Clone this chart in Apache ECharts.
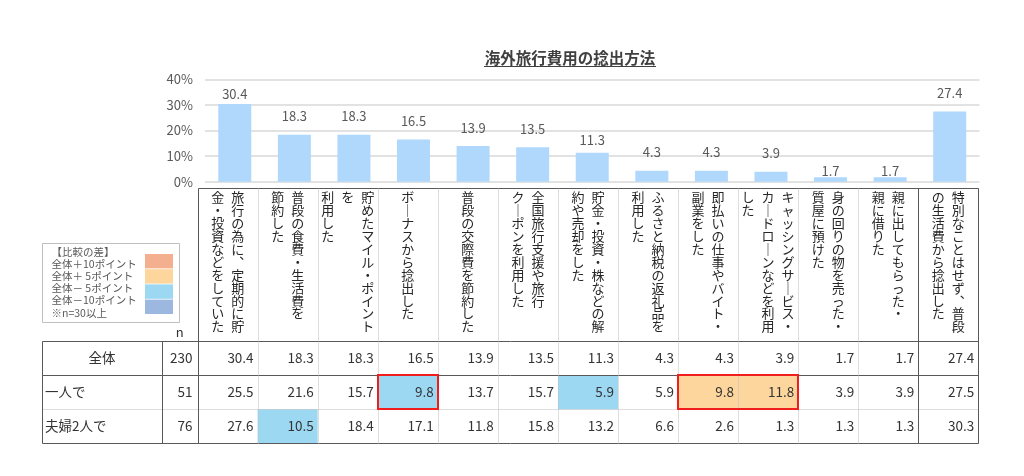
<!DOCTYPE html>
<html><head><meta charset="utf-8">
<script src="https://cdn.jsdelivr.net/npm/echarts@6/dist/echarts.min.js"></script>
<style>html,body{margin:0;padding:0;background:#fff}#c{width:1024px;height:476px}</style>
</head><body><div id="c"></div>
<script>
// ---------- data ----------
const chartTitle = '海外旅行費用の捻出方法';
const categories = [
  '旅行の為に、定期的に貯金・投資などをしていた', '普段の食費・生活費を節約した', '貯めたマイル・ポイントを利用した',
  'ボーナスから捻出した', '普段の交際費を節約した', '全国旅行支援や旅行クーポンを利用した',
  '貯金・投資・株などの解約や売却をした', 'ふるさと納税の返礼品を利用した', '即払いの仕事やバイト・副業をした',
  'キャッシングサービス・カードローンなどを利用した', '身の回りの物を売った・質屋に預けた',
  '親に出してもらった・親に借りた', '特別なことはせず、普段の生活費から捻出した'
];
const headerLines = [
  ['旅行の為に、定期的に貯', '金・投資などをしていた'],
  ['普段の食費・生活費を', '節約した'],
  ['貯めたマイル・ポイント', 'を', '利用した'],
  ['ボーナスから捻出した'],
  ['普段の交際費を節約した'],
  ['全国旅行支援や旅行', 'クーポンを利用した'],
  ['貯金・投資・株などの解', '約や売却をした'],
  ['ふるさと納税の返礼品を', '利用した'],
  ['即払いの仕事やバイト・', '副業をした'],
  ['キャッシングサービス・', 'カードローンなどを利用', 'した'],
  ['身の回りの物を売った・', '質屋に預けた'],
  ['親に出してもらった・', '親に借りた'],
  ['特別なことはせず、普段', 'の生活費から捻出した']
];
const yTickLabels = ['0%', '10%', '20%', '30%', '40%'];
const rowNames = ['全体', '一人で', '夫婦2人で'];
const rowN = [230, 51, 76];
const valAll = [30.4, 18.3, 18.3, 16.5, 13.9, 13.5, 11.3, 4.3, 4.3, 3.9, 1.7, 1.7, 27.4];
const valAlone = [25.5, 21.6, 15.7, 9.8, 13.7, 15.7, 5.9, 5.9, 9.8, 11.8, 3.9, 3.9, 27.5];
const valCouple = [27.6, 10.5, 18.4, 17.1, 11.8, 15.8, 13.2, 6.6, 2.6, 1.3, 1.3, 1.3, 30.3];
const redBoxes = [[1, 3, 3], [1, 8, 9]]; // [row, fromCol, toCol]
const legendTitle = '【比較の差】';
const legendItems = ['全体＋10ポイント', '全体＋ 5ポイント', '全体－ 5ポイント', '全体－10ポイント'];
const legendNote = '※n=30以上';

// ---------- styles / layout ----------
const FONT = "'Noto Sans CJK JP','Noto Sans',sans-serif";
const diffColors = ['#F4B08E', '#FCD69C', '#9DD8F3', '#9DB8E0'];
const XL = -2.59, XN = -0.59;   // left edges of name / n columns, in data-column units
const labelDist = {0: 3, 6: 6, 10: 0, 11: 0};

function diffCode(v, base) {
  const d = v - base;
  if (d >= 10) return 1; if (d >= 5) return 2; if (d <= -10) return 4; if (d <= -5) return 3; return 0;
}
function verticalText(lines) {
  const n = Math.max(...lines.map(l => l.length));
  const rows = [];
  for (let i = 0; i < n; i++) {
    let s = '';
    for (let j = lines.length - 1; j >= 0; j--) {
      let ch = lines[j][i] || '　';
      if (ch === 'ー') ch = '｜';
      if (ch === '、') ch = '︑';
      s += '{c|' + ch + '}';
    }
    rows.push(s);
  }
  return rows.join('\n');
}

const rows = [valAll, valAlone, valCouple];
const cellData = [];
rows.forEach((arr, r) => arr.forEach((v, c) => {
  const code = (r > 0 && rowN[r] >= 30) ? diffCode(v, valAll[c]) : 0;
  cellData.push([c, r, v, code]);
}));

const frameData = [];
frameData.push([0, -4.5, 13, -4.5, 0]);
[0, 1, 3].forEach(y => frameData.push([XL, y, 13, y, 0]));
frameData.push([XL, 2, 13, 2, 1]);
frameData.push([XL, 0, XL, 3, 0]);
frameData.push([XN, 0, XN, 3, 0]);
for (let c = 0; c <= 13; c++) frameData.push([c, -4.5, c, 3, (c === 0 || c === 12 || c === 13) ? 0 : 1]);

const px = v => Math.round(v) + 0.5;

const chart = echarts.init(document.getElementById('c'), null, {renderer: 'canvas'});
chart.setOption({
  animation: false,
  backgroundColor: '#fff',
  title: {
    text: chartTitle, left: 565, top: 45, textAlign: 'center',
    textStyle: {fontSize: 15.5, fontWeight: 'bold', color: '#404040', fontFamily: FONT}
  },
  grid: [
    {left: 205, top: 79.3, width: 774.5, height: 102.4, outerBoundsMode: 'none', containLabel: false},
    {left: 197.6, top: 188, width: 780.7, height: 153.2, outerBoundsMode: 'none', containLabel: false},
    {left: 42, top: 188, width: 936.3, height: 255.3, outerBoundsMode: 'none', containLabel: false}
  ],
  xAxis: [
    {gridIndex: 0, type: 'category', data: categories, axisLine: {show: false}, axisTick: {show: false}, axisLabel: {show: false}},
    {gridIndex: 1, type: 'category', data: categories, position: 'top',
      axisLine: {show: false}, axisTick: {show: false}, splitLine: {show: false},
      axisLabel: {
        interval: 0, inside: true, margin: 3, verticalAlign: 'top', align: 'center',
        formatter: (v, i) => verticalText(headerLines[i]),
        rich: {c: {width: 20, align: 'center', fontSize: 13, lineHeight: 12.9, color: '#262626', fontFamily: FONT}}
      }},
    {gridIndex: 2, type: 'value', min: XL, max: 13, show: false}
  ],
  yAxis: [
    {gridIndex: 0, type: 'value', min: 0, max: 40, interval: 10,
      axisLine: {show: false}, axisTick: {show: false},
      axisLabel: {formatter: v => yTickLabels[Math.round(v / 10)], color: '#595959', fontSize: 13, margin: 12, fontFamily: FONT},
      splitLine: {lineStyle: {color: '#D9D9D9', width: 1.5}}},
    {gridIndex: 1, type: 'value', show: false},
    {gridIndex: 2, type: 'value', min: -4.5, max: 3, inverse: true, show: false}
  ],
  graphic: [
    {type: 'line', shape: {x1: 484, y1: 66.5, x2: 656, y2: 66.5}, style: {stroke: '#404040', lineWidth: 1}},
    {type: 'rect', shape: {x: 42.5, y: 243.5, width: 137, height: 79}, style: {fill: '#fff', stroke: '#BFBFBF', lineWidth: 1}},
    {type: 'text', x: 51.5, y: 245.6, style: {
      text: [legendTitle, ...legendItems, legendNote].join('\n'),
      fontSize: 10.5, lineHeight: 12.2, fill: '#595959', fontFamily: FONT}},
    ...diffColors.map((col, i) => ({type: 'rect', shape: {x: 145, y: 254 + i * 15.2, width: 28, height: 14.4}, style: {fill: col}}))
  ],
  series: [
    {type: 'bar', xAxisIndex: 0, yAxisIndex: 0, barWidth: 33,
      itemStyle: {color: '#AFD8FC'},
      label: {show: true, position: 'top', color: '#595959', fontSize: 13, fontFamily: FONT, formatter: p => p.value.toFixed(1)},
      data: valAll.map((v, i) => ({value: v, label: {distance: labelDist[i] !== undefined ? labelDist[i] : 12}}))},
    {type: 'custom', xAxisIndex: 2, yAxisIndex: 2, z: 2, data: cellData,
      renderItem: (params, api) => {
        const c = api.value(0), r = api.value(1), v = api.value(2), code = api.value(3);
        const a = api.coord([c, r]), b = api.coord([c + 1, r + 1]);
        const ch = [];
        if (code) ch.push({type: 'rect', shape: {x: a[0], y: a[1], width: b[0] - a[0], height: b[1] - a[1]}, style: {fill: diffColors[code - 1]}});
        ch.push({type: 'text', style: {text: v.toFixed(1), x: b[0] - 4, y: (a[1] + b[1]) / 2, align: 'right', verticalAlign: 'middle', fontSize: 13.5, fill: '#333', fontFamily: FONT}});
        return {type: 'group', children: ch};
      }},
    {type: 'custom', xAxisIndex: 2, yAxisIndex: 2, z: 3, data: rowNames.map((n, i) => [i]),
      renderItem: (params, api) => {
        const r = params.dataIndex;
        const mid = api.coord([(XL + XN) / 2, r + 0.5]);
        const left = api.coord([XL, r + 0.5]);
        const nr = api.coord([0, r + 0.5]);
        const ch = [];
        const st = {fontSize: 13.5, fill: '#333', fontFamily: FONT, verticalAlign: 'middle'};
        if (r === 0) ch.push({type: 'text', style: Object.assign({text: rowNames[r], x: mid[0], y: mid[1], align: 'center'}, st)});
        else ch.push({type: 'text', style: Object.assign({text: rowNames[r], x: left[0] + 3, y: left[1], align: 'left'}, st)});
        ch.push({type: 'text', style: Object.assign({text: String(rowN[r]), x: nr[0] - 5, y: nr[1], align: 'right'}, st)});
        if (r === 0) {
          const h = api.coord([(XN + 0) / 2, 0]);
          ch.push({type: 'text', style: Object.assign({}, st, {text: 'n', x: h[0], y: h[1] - 9, align: 'center', fontSize: 13})});
        }
        return {type: 'group', children: ch};
      }},
    {type: 'custom', xAxisIndex: 2, yAxisIndex: 2, z: 4, data: frameData,
      renderItem: (params, api) => {
        const a = api.coord([api.value(0), api.value(1)]);
        const b = api.coord([api.value(2), api.value(3)]);
        const light = api.value(4) === 1;
        return {type: 'line', shape: {x1: px(a[0]), y1: px(a[1]), x2: px(b[0]), y2: px(b[1])},
          style: {stroke: light ? '#BDBDBD' : '#595959', lineWidth: 1, lineDash: light ? [1, 1] : null}};
      }},
    {type: 'custom', xAxisIndex: 2, yAxisIndex: 2, z: 5, data: redBoxes,
      renderItem: (params, api) => {
        const r = api.value(0), f = api.value(1), t = api.value(2);
        const a = api.coord([f, r]), b = api.coord([t + 1, r + 1]);
        return {type: 'rect', shape: {x: Math.round(a[0]), y: Math.round(a[1]), width: Math.round(b[0]) - Math.round(a[0]), height: Math.round(b[1]) - Math.round(a[1])},
          style: {fill: 'none', stroke: '#F01E1E', lineWidth: 2}};
      }}
  ]
});
</script>
</body></html>
